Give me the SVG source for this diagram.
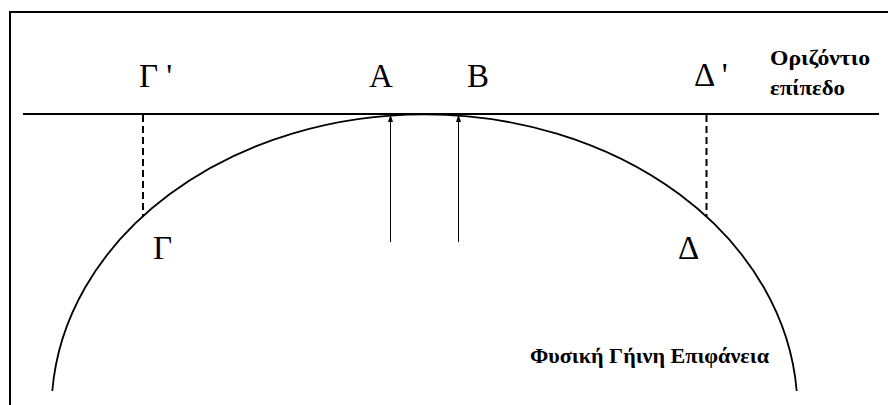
<svg xmlns="http://www.w3.org/2000/svg" width="888" height="405" viewBox="0 0 888 405">
<defs>
<style>
.lbl{font-family:"Liberation Serif","Times New Roman",serif;font-size:33px;fill:#000}
.bld{font-family:"Liberation Serif","Times New Roman",serif;font-weight:bold;font-size:20px;fill:#000}
.dash{stroke:#000;stroke-width:2;stroke-dasharray:7 4;fill:none}
</style>
</defs>
<rect x="0" y="0" width="888" height="405" fill="#fff"/>
<rect x="10" y="12" width="900" height="420" fill="none" stroke="#000" stroke-width="2"/>
<g id="plane">
<line x1="23" y1="114" x2="879" y2="114" stroke="#000" stroke-width="2"/>
<text class="bld" x="770" y="65" textLength="100" lengthAdjust="spacingAndGlyphs">Οριζόντιο</text>
<text class="bld" x="770" y="95" textLength="75" lengthAdjust="spacingAndGlyphs">επίπεδο</text>
</g>
<g id="surface">
<path d="M 52.3 391 A 373 296 0 0 1 796.7 391" fill="none" stroke="#000" stroke-width="1.8"/>
<text class="bld" x="530" y="363" style="font-size:21px" textLength="239" lengthAdjust="spacingAndGlyphs">Φυσική Γήινη Επιφάνεια</text>
</g>
<g id="labels">
<text class="lbl" x="139" y="87">Γ '</text>
<text class="lbl" x="369" y="87">A</text>
<text class="lbl" x="467" y="87">B</text>
<text class="lbl" x="694" y="86">Δ '</text>
<text class="lbl" x="153" y="259">Γ</text>
<text class="lbl" x="678" y="259">Δ</text>
</g>
<g id="connectors">
<line class="dash" x1="143" y1="115" x2="143" y2="217"/>
<line class="dash" x1="706.5" y1="115" x2="706.5" y2="217"/>
<path d="M390.5 242 L390.5 114.5" stroke="#000" stroke-width="1" fill="none"/>
<path d="M458.5 242 L458.5 114.5" stroke="#000" stroke-width="1" fill="none"/>
<path d="M388 122 L390.5 114.5 L393 122 Z" fill="#000"/>
<path d="M456 122 L458.5 114.5 L461 122 Z" fill="#000"/>
</g>
</svg>
